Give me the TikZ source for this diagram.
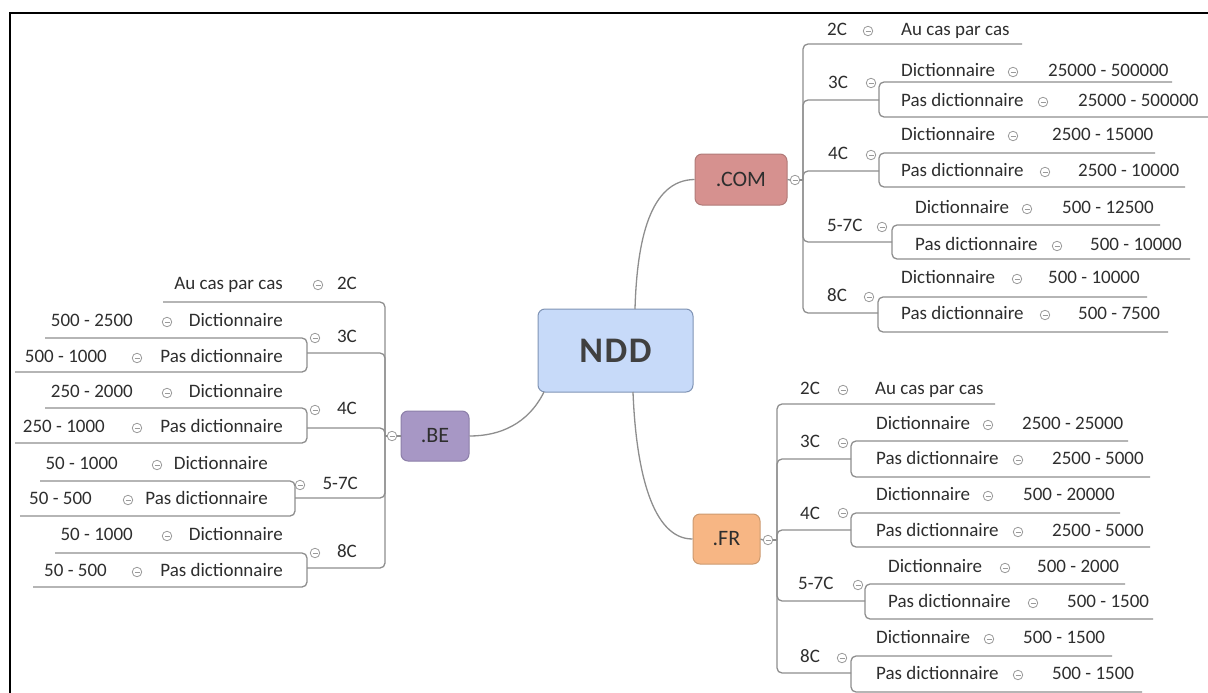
\documentclass[tikz,border=0pt]{standalone}
\usepackage{fontspec}
\setmainfont{Carlito}
\definecolor{linec}{HTML}{8E8E8E}
\definecolor{togc}{HTML}{9A9A9A}
\definecolor{txtc}{HTML}{2E2E2E}
\definecolor{nddf}{HTML}{C7DAF9}
\definecolor{nddd}{HTML}{8094B5}
\definecolor{comf}{HTML}{D6918F}
\definecolor{comd}{HTML}{B07A78}
\definecolor{bef}{HTML}{A797C5}
\definecolor{bed}{HTML}{8C7FA8}
\definecolor{frf}{HTML}{F7B684}
\definecolor{frd}{HTML}{CC9A70}
\tikzset{
  conn/.style={draw=linec, line width=1.3pt, rounded corners=5pt},
  lbl/.style={inner sep=0pt, text height=12pt, text depth=3pt, font=\fontsize{19}{21}\selectfont, text=txtc},
  tog/.style={circle, draw=togc, line width=0.8pt, minimum size=9.5pt, inner sep=0pt, fill=white,
    path picture={\draw[togc, line width=0.8pt] ([xshift=-2.5pt]path picture bounding box.center) -- ([xshift=2.5pt]path picture bounding box.center);}},
  topic/.style={rectangle, rounded corners=7pt, line width=1pt, inner sep=0pt, text=txtc}
}
\newcommand\rowR[7]{%
  \node[lbl,anchor=west] (#1t) at (#2,#3) {#4};
  \node[tog] (#1c) at (#5,#3) {};
  \node[lbl,anchor=west] (#1v) at (#6,#3) {#7};}
\newcommand\rowL[7]{%
  \node[lbl,anchor=east] (#1t) at (#2,#3) {#4};
  \node[tog] (#1c) at (#5,#3) {};
  \node[lbl,anchor=east] (#1v) at (#6,#3) {#7};}
\begin{document}
\begin{tikzpicture}[x=1pt,y=-1pt]
\useasboundingbox (0,0) rectangle (1208,693);
\fill[white] (0,0) rectangle (1208,693);
\draw[line width=2.5pt, black] (10,693) -- (10,13) -- (1208,13);

% central topic
\node[topic, fill=nddf, draw=nddd, minimum width=155pt, minimum height=83pt,
  font=\fontsize{36}{38}\selectfont\bfseries, text=black!75] (ndd) at (615.5,350.5) {N\kern1.5pt D\kern1.5pt D};

% main topics
\node[topic, fill=comf, draw=comd, minimum width=92pt, minimum height=51pt,
  font=\fontsize{22}{24}\selectfont] (com) at (741,179.5) {.COM};
\node[topic, fill=bef, draw=bed, minimum width=68pt, minimum height=50pt,
  font=\fontsize{22}{24}\selectfont] (be) at (435,436) {.BE};
\node[topic, fill=frf, draw=frd, minimum width=67pt, minimum height=50pt,
  font=\fontsize{22}{24}\selectfont] (fr) at (726.5,539) {.FR};

\coordinate (nddN) at (635,309);
\coordinate (nddS) at (633,392);
\coordinate (nddSW) at (544,392);
\draw[linec, line width=1.3pt] (nddN) .. controls (637,240) and (650,180) .. (com.west);
\draw[linec, line width=1.3pt] (nddS) .. controls (636,470) and (652,539) .. (fr.west);
\draw[linec, line width=1.3pt] (nddSW) .. controls (528,424) and (500,436) .. (be.east);

% ===== .COM =====
\node[tog] (comT) at (795,180) {};
\coordinate (comJ) at (803,180);
\draw[linec, line width=1.3pt] (com.east) -- (comT.west);
\draw[linec, line width=1.3pt] (comT.east) -- (comJ);
% 2C
\coordinate (c2u) at (1022,44);
\draw[conn] (comJ) |- (c2u);
\node[lbl,anchor=west] (c2) at (827,31) {2C};
\node[tog] (c2c) at (868,31) {};
\node[lbl,anchor=west] (c2a) at (901,31) {Au cas par cas};
% 3C
\node[lbl,anchor=west] (c3) at (828,84) {3C};
\node[tog] (c3c) at (871,83) {};
\coordinate (c3m) at (879,100);
\coordinate (c3a) at (1172,82);
\coordinate (c3b) at (1208,117);
\draw[conn] (comJ) |- (c3m);
\draw[conn] (c3a) -| (c3m) |- (c3b);
\rowR{c3d}{901}{72}{Dictionnaire}{1013}{1048}{25000 - 500000}
\rowR{c3p}{901}{102}{Pas dictionnaire}{1043}{1078}{25000 - 500000}
% 4C
\node[lbl,anchor=west] (c4) at (828,155) {4C};
\node[tog] (c4c) at (871,155) {};
\coordinate (c4m) at (879,171);
\coordinate (c4a) at (1155,153);
\coordinate (c4b) at (1185,187);
\draw[conn] (comJ) |- (c4m);
\draw[conn] (c4a) -| (c4m) |- (c4b);
\rowR{c4d}{901}{136}{Dictionnaire}{1013}{1052}{2500 - 15000}
\rowR{c4p}{901}{172}{Pas dictionnaire}{1045}{1078}{2500 - 10000}
% 5-7C
\node[lbl,anchor=west] (c5) at (827,227) {5-7C};
\node[tog] (c5c) at (882,227) {};
\coordinate (c5m) at (892,242);
\coordinate (c5a) at (1160,225);
\coordinate (c5b) at (1190,259);
\draw[conn] (comJ) |- (c5m);
\draw[conn] (c5a) -| (c5m) |- (c5b);
\rowR{c5d}{915}{209}{Dictionnaire}{1027}{1062}{500 - 12500}
\rowR{c5p}{915}{246}{Pas dictionnaire}{1057}{1090}{500 - 10000}
% 8C
\node[lbl,anchor=west] (c8) at (827,297) {8C};
\node[tog] (c8c) at (869,297) {};
\coordinate (c8m) at (878,313);
\coordinate (c8a) at (1147,297);
\coordinate (c8b) at (1168,332);
\draw[conn] (comJ) |- (c8m);
\draw[conn] (c8a) -| (c8m) |- (c8b);
\rowR{c8d}{901}{279}{Dictionnaire}{1017}{1048}{500 - 10000}
\rowR{c8p}{901}{315}{Pas dictionnaire}{1045}{1078}{500 - 7500}

% ===== .FR =====
\node[tog] (frT) at (768,540) {};
\coordinate (frJ) at (777,540);
\draw[linec, line width=1.3pt] (fr.east) -- (frT.west);
\draw[linec, line width=1.3pt] (frT.east) -- (frJ);
% 2C
\coordinate (f2u) at (995,404);
\draw[conn] (frJ) |- (f2u);
\node[lbl,anchor=west] (f2) at (800,390) {2C};
\node[tog] (f2c) at (843,390) {};
\node[lbl,anchor=west] (f2a) at (875,390) {Au cas par cas};
% 3C
\node[lbl,anchor=west] (f3) at (800,443) {3C};
\node[tog] (f3c) at (843,443) {};
\coordinate (f3m) at (851,459);
\coordinate (f3a) at (1128,441);
\coordinate (f3b) at (1150,477);
\draw[conn] (frJ) |- (f3m);
\draw[conn] (f3a) -| (f3m) |- (f3b);
\rowR{f3d}{876}{425}{Dictionnaire}{988}{1022}{2500 - 25000}
\rowR{f3p}{876}{460}{Pas dictionnaire}{1018}{1052}{2500 - 5000}
% 4C
\node[lbl,anchor=west] (f4) at (800,515) {4C};
\node[tog] (f4c) at (843,513) {};
\coordinate (f4m) at (851,530);
\coordinate (f4a) at (1120,513);
\coordinate (f4b) at (1150,547);
\draw[conn] (frJ) |- (f4m);
\draw[conn] (f4a) -| (f4m) |- (f4b);
\rowR{f4d}{876}{496}{Dictionnaire}{988}{1023}{500 - 20000}
\rowR{f4p}{876}{532}{Pas dictionnaire}{1018}{1052}{2500 - 5000}
% 5-7C
\node[lbl,anchor=west] (f5) at (798,585) {5-7C};
\node[tog] (f5c) at (858,585) {};
\coordinate (f5m) at (865,601);
\coordinate (f5a) at (1125,584);
\coordinate (f5b) at (1153,619);
\draw[conn] (frJ) |- (f5m);
\draw[conn] (f5a) -| (f5m) |- (f5b);
\rowR{f5d}{888}{568}{Dictionnaire}{1005}{1037}{500 - 2000}
\rowR{f5p}{888}{603}{Pas dictionnaire}{1033}{1067}{500 - 1500}
% 8C
\node[lbl,anchor=west] (f8) at (800,658) {8C};
\node[tog] (f8c) at (842,658) {};
\coordinate (f8m) at (851,673);
\coordinate (f8a) at (1112,656);
\coordinate (f8b) at (1142,692);
\draw[conn] (frJ) |- (f8m);
\draw[conn] (f8a) -| (f8m) |- (f8b);
\rowR{f8d}{876}{639}{Dictionnaire}{989}{1023}{500 - 1500}
\rowR{f8p}{876}{675}{Pas dictionnaire}{1018}{1052}{500 - 1500}

% ===== .BE =====
\node[tog] (beT) at (392,436) {};
\coordinate (beJ) at (385,436);
\draw[linec, line width=1.3pt] (be.west) -- (beT.east);
\draw[linec, line width=1.3pt] (beT.west) -- (beJ);
% 2C
\coordinate (b2u) at (163,302);
\draw[conn] (beJ) |- (b2u);
\node[lbl,anchor=east] (b2) at (357,285) {2C};
\node[tog] (b2c) at (318,285) {};
\node[lbl,anchor=east] (b2a) at (283,285) {Au cas par cas};
% 3C
\node[lbl,anchor=east] (b3) at (357,338) {3C};
\node[tog] (b3c) at (315,338) {};
\coordinate (b3m) at (307,353);
\coordinate (b3a) at (45,338);
\coordinate (b3b) at (15,372);
\draw[conn] (beJ) |- (b3m);
\draw[conn] (b3a) -| (b3m) |- (b3b);
\rowL{b3d}{283}{322}{Dictionnaire}{167}{133}{500 - 2500}
\rowL{b3p}{283}{358}{Pas dictionnaire}{137}{107}{500 - 1000}
% 4C
\node[lbl,anchor=east] (b4) at (357,410) {4C};
\node[tog] (b4c) at (315,410) {};
\coordinate (b4m) at (307,428);
\coordinate (b4a) at (45,408);
\coordinate (b4b) at (15,443);
\draw[conn] (beJ) |- (b4m);
\draw[conn] (b4a) -| (b4m) |- (b4b);
\rowL{b4d}{283}{393}{Dictionnaire}{167}{133}{250 - 2000}
\rowL{b4p}{283}{428}{Pas dictionnaire}{137}{105}{250 - 1000}
% 5-7C
\node[lbl,anchor=east] (b5) at (358,485) {5-7C};
\node[tog] (b5c) at (300,485) {};
\coordinate (b5m) at (295,498);
\coordinate (b5a) at (40,481);
\coordinate (b5b) at (20,516);
\draw[conn] (beJ) |- (b5m);
\draw[conn] (b5a) -| (b5m) |- (b5b);
\rowL{b5d}{268}{465}{Dictionnaire}{157}{118}{50 - 1000}
\rowL{b5p}{268}{500}{Pas dictionnaire}{128}{92}{50 - 500}
% 8C
\node[lbl,anchor=east] (b8) at (357,553) {8C};
\node[tog] (b8c) at (315,553) {};
\coordinate (b8m) at (307,568);
\coordinate (b8a) at (55,553);
\coordinate (b8b) at (33,587);
\draw[conn] (beJ) |- (b8m);
\draw[conn] (b8a) -| (b8m) |- (b8b);
\rowL{b8d}{283}{536}{Dictionnaire}{167}{133}{50 - 1000}
\rowL{b8p}{283}{572}{Pas dictionnaire}{137}{107}{50 - 500}
\end{tikzpicture}
\end{document}
